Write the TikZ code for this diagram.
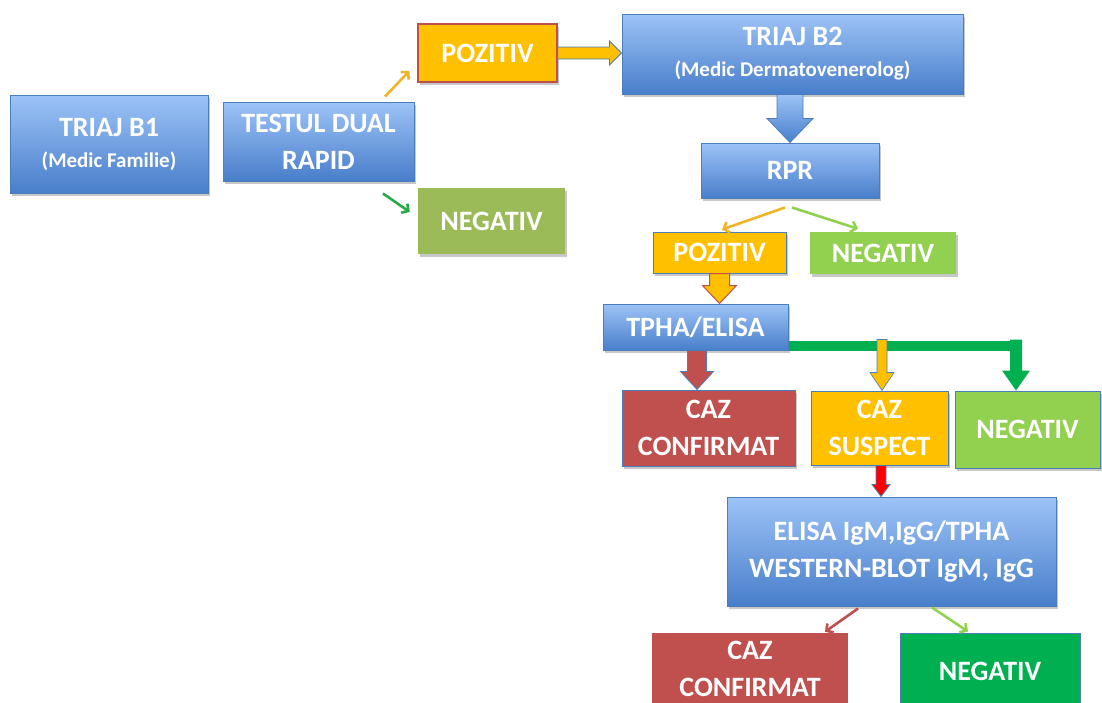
\documentclass[tikz,border=0pt]{standalone}
\usepackage{fontspec}
\setmainfont{Carlito}
\usetikzlibrary{calc,shadows,arrows.meta}

\definecolor{bluetop}{RGB}{157,195,247}
\definecolor{bluebot}{RGB}{72,126,202}
\definecolor{blueline}{RGB}{74,126,187}
\definecolor{orng}{RGB}{255,192,0}
\definecolor{redb}{RGB}{192,80,77}
\definecolor{olive}{RGB}{155,187,89}
\definecolor{lgreen}{RGB}{146,208,80}
\definecolor{dgreen}{RGB}{0,176,80}
\definecolor{arrorange}{RGB}{240,180,40}
\definecolor{arrgreen}{RGB}{40,170,70}

\newcommand\boxfont{\bfseries\fontsize{28}{37}\selectfont}
\newcommand\subfnt{\fontsize{21}{26}\selectfont}

% #1 style, #2 start, #3 end (y used), #4 half shaft, #5 half head, #6 head length
\newcommand\blkdown[6]{%
  \path[#1] let \p1=(#2), \p2=(#3) in
    (\x1-#4pt,\y1) -- (\x1+#4pt,\y1) -- (\x1+#4pt,\y2+#6pt) -- (\x1+#5pt,\y2+#6pt)
    -- (\x1,\y2) -- (\x1-#5pt,\y2+#6pt) -- (\x1-#4pt,\y2+#6pt) -- cycle;}
\newcommand\blkright[6]{%
  \path[#1] let \p1=(#2), \p2=(#3) in
    (\x1,\y1+#4pt) -- (\x2-#6pt,\y1+#4pt) -- (\x2-#6pt,\y1+#5pt) -- (\x2,\y1)
    -- (\x2-#6pt,\y1-#5pt) -- (\x2-#6pt,\y1-#4pt) -- (\x1,\y1-#4pt) -- cycle;}

\tikzset{
  box/.style={rectangle, inner sep=0pt, text=white, font=\boxfont, align=center},
  shad/.style={drop shadow={shadow xshift=1.5pt, shadow yshift=-2.5pt, fill=black, opacity=0.22}},
  bluebox/.style={box, shad, top color=bluetop, bottom color=bluebot, draw=blueline, line width=1pt},
  thinarr/.style={line width=2.6pt, -{Straight Barb[length=5pt,width=11pt]}},
}

\begin{document}
\begin{tikzpicture}[x=1pt,y=-1pt]
\fill[white] (0,0) rectangle (1102,702);
\useasboundingbox (0,0) rectangle (1102,702);
\clip (0,0) rectangle (1102,702);

% nodes
\node[bluebox, minimum width=198pt, minimum height=98pt] (b1) at (109,144)
  {TRIAJ B1\\[-6pt]{\subfnt (Medic Familie)}};
\node[bluebox, minimum width=191pt, minimum height=79pt] (dual) at (318.5,141.5)
  {TESTUL DUAL\\RAPID};
\node[box, shad, fill=orng, draw=redb, line width=1.2pt, minimum width=139pt, minimum height=58pt] (poz1) at (487.5,53) {POZITIV};
\node[box, shad, fill=olive, minimum width=147pt, minimum height=66pt] (neg1) at (491.5,221) {NEGATIV};
\node[bluebox, minimum width=341pt, minimum height=80pt] (b2) at (792.5,54)
  {TRIAJ B2\\[-6pt]{\subfnt (Medic Dermatovenerolog)}};
\node[bluebox, minimum width=178pt, minimum height=55pt] (rpr) at (790,170.5) {RPR};
\node[box, shad, fill=orng, draw=blueline, line width=1pt, minimum width=133pt, minimum height=41pt] (poz2) at (719.5,252.5) {POZITIV};
\node[box, shad, fill=lgreen, minimum width=146pt, minimum height=42pt] (neg2) at (883,253) {NEGATIV};
\node[bluebox, minimum width=185pt, minimum height=46pt] (tpha) at (695.5,327) {TPHA/ELISA};
\node[box, shad, fill=redb, draw=blueline, line width=1pt, minimum width=173pt, minimum height=76pt] (caz1) at (708.5,428) {CAZ\\CONFIRMAT};
\node[box, shad, fill=orng, draw=blueline, line width=1pt, minimum width=137pt, minimum height=74pt] (susp) at (879.5,428) {CAZ\\SUSPECT};
\node[box, shad, fill=lgreen, draw=blueline, line width=1pt, minimum width=145pt, minimum height=77pt] (neg3) at (1027.5,429.5) {NEGATIV};
\node[bluebox, minimum width=329pt, minimum height=109pt] (elisa) at (891.5,551.5)
  {ELISA IgM,IgG/TPHA\\WESTERN-BLOT IgM, IgG};
\node[box, fill=redb, minimum width=196pt, minimum height=72pt] (caz2) at (750,669) {CAZ\\CONFIRMAT};
\node[box, fill=dgreen, draw=blueline, line width=1pt, minimum width=180pt, minimum height=76pt] (neg4) at (990,671) {NEGATIV};

% thin arrows
\draw[thinarr, arrorange] ($(dual.north)+(66.5,-5)$) -- ($(poz1.west)+(-8,18)$);
\draw[thinarr, arrgreen] ($(dual.south)+(64.5,12)$) -- ($(neg1.west)+(-8,-9)$);
\draw[thinarr, arrorange] ($(rpr.south)+(-5,9)$) -- ($(poz2.north)+(2.5,-2)$);
\draw[thinarr, lgreen] ($(rpr.south)+(2,9)$) -- ($(neg2.north)+(-25,-3)$);
\draw[thinarr, redb] ($(elisa.south)+(-33.5,2)$) -- ($(caz2.north)+(75,-1)$);
\draw[thinarr, lgreen] ($(elisa.south)+(40.5,1)$) -- ($(neg4.north)+(-22,-1)$);

% block arrows
\blkright{fill=orng, draw=blueline, line width=0.8pt}{poz1.east}{b2.west}{6}{12}{12}
\blkdown{top color=bluetop, bottom color=bluebot, draw=blueline, line width=0.8pt}{$(b2.south)+(-2.5,0)$}{rpr.north}{13}{23}{24}
\blkdown{fill=orng, draw=redb, line width=1pt}{poz2.south}{tpha.north}{10}{17}{18}
\blkdown{fill=redb, draw=blueline, line width=0.8pt}{$(tpha.south)+(1.5,0)$}{caz1.north}{9.5}{16.5}{18}

% green bracket
\coordinate (gturn) at ($(neg3.north)+(-11.5,-51)$);
\fill[dgreen] ($(tpha.south east)+(0,-10)$) rectangle ($(gturn)+(6,11)$);
\blkdown{fill=dgreen}{gturn}{neg3.north}{6}{14}{20}
\coordinate (otop) at ($(susp.north)+(2.5,-51)$);
\blkdown{fill=orng, draw=blueline, line width=0.6pt}{otop}{susp.north}{5}{12}{18}
\blkdown{fill=red, draw=blueline, line width=0.8pt}{$(susp.south)+(1.5,0)$}{elisa.north}{5}{9}{12}
\end{tikzpicture}
\end{document}
